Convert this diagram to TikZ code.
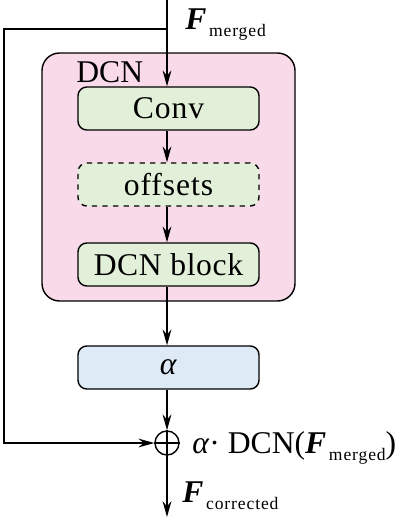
\documentclass[tikz,border=0pt]{standalone}
\usepackage{fontspec}
\setmainfont{Liberation Serif}
\usepackage{tikz}
\usetikzlibrary{arrows.meta,calc,positioning}
\definecolor{dcnpink}{HTML}{F8DAE8}
\definecolor{boxgreen}{HTML}{E2F0D9}
\definecolor{boxblue}{HTML}{DEEBF7}

\tikzset{
  blk/.style={draw,line width=0.8pt,rounded corners=5pt,minimum width=3.62cm,minimum height=0.86cm,inner sep=0pt},
  flow/.style={line width=0.8pt,-{Stealth[length=9pt,width=5pt]}},
  wire/.style={line width=0.8pt},
  lbl/.style={anchor=base west,inner sep=0pt}
}
\newcommand{\Fv}[1]{{\bfseries\itshape F}\kern1.5pt\raisebox{-4.5pt}{\fontsize{10}{12}\selectfont\addfontfeature{LetterSpace=5}#1}}

\begin{document}
\begin{tikzpicture}[font=\fontsize{18}{21}\selectfont]
  \useasboundingbox (0,0) rectangle (8.1,-10.42);
  \draw[wire,fill=dcnpink,rounded corners=10pt] (0.84,-1.06) rectangle (5.9,-6.02);
  \node[lbl] at (1.52,-1.64) (dcnlabel) {DCN};
  \node[blk,fill=boxgreen] at (3.37,-2.17) (conv) {\addfontfeature{LetterSpace=3}Conv};
  \node[blk,fill=boxgreen,dashed] at (3.37,-3.69) (offsets) {\addfontfeature{LetterSpace=3}offsets};
  \node[blk,fill=boxgreen] at (3.37,-5.29) (dcnblock) {\addfontfeature{LetterSpace=2}DCN block};
  \node[blk,fill=boxblue] at (3.37,-7.35) (alpha) {\textit{α}};
  \node[draw,circle,line width=0.8pt,inner sep=0pt,minimum size=0.48cm] at (3.34,-8.86) (sum) {};
  \draw[wire] (sum.north) -- (sum.south) (sum.west) -- (sum.east);
  \coordinate (top) at (3.34,0);
  \coordinate (branch) at (3.34,-0.58);
  \coordinate (out) at (3.34,-10.34);
  \draw[flow] (top) -- (branch) -- (branch |- conv.north);
  \draw[flow] (conv.south -| sum) -- (offsets.north -| sum);
  \draw[flow] (offsets.south -| sum) -- (dcnblock.north -| sum);
  \draw[flow] (dcnblock.south -| sum) -- (alpha.north -| sum);
  \draw[flow] (alpha.south -| sum) -- (sum.north);
  \draw[flow] (branch) -- (0.08,-0.58) -- (0.08,-8.86) -- (sum.west);
  \draw[flow] (sum.south) -- (out);
  \node[lbl] at (3.7,-0.58) (fin) {\Fv{merged}};
  \node[lbl] at (3.84,-9.06) (expr) {\textit{α}·\ DCN(\Fv{merged})};
  \node[lbl] at (3.64,-10.04) (fout) {\Fv{corrected}};
\end{tikzpicture}
\end{document}
